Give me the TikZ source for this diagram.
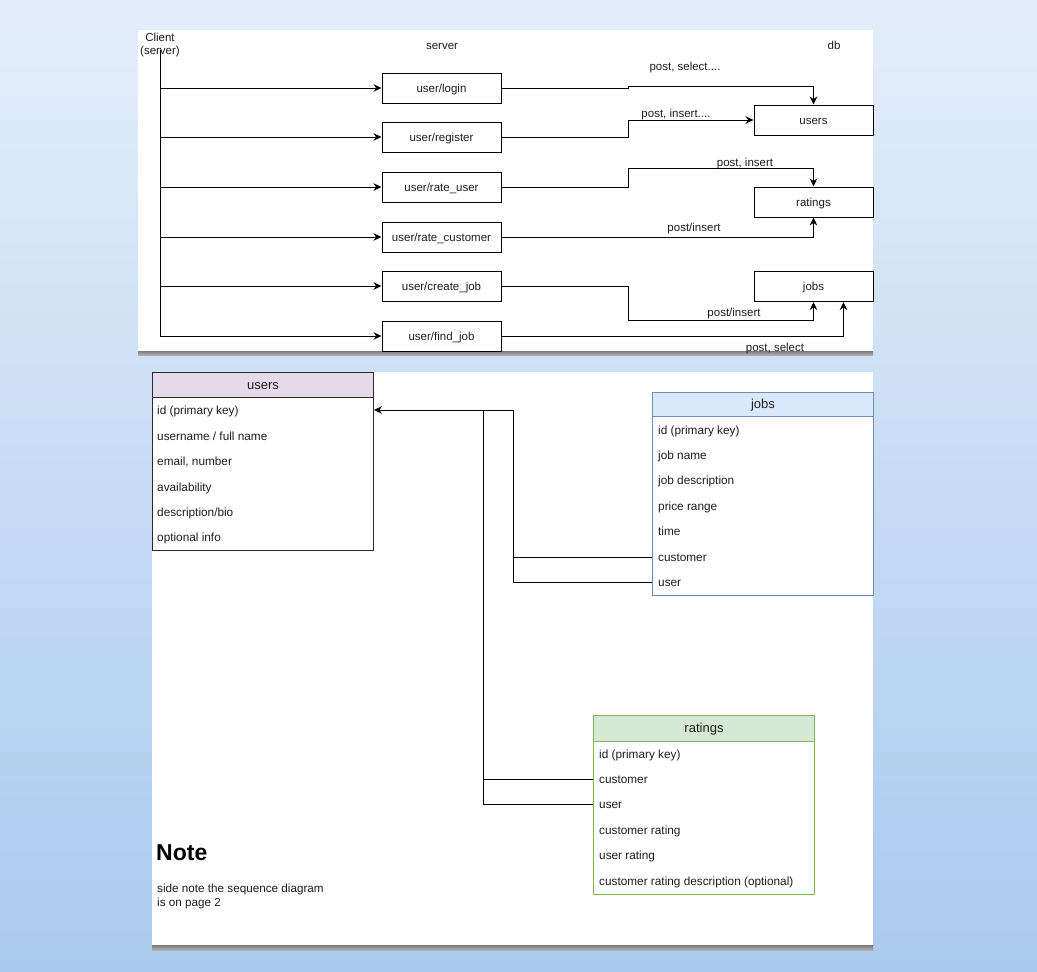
\documentclass[tikz,border=0pt]{standalone}
\usepackage{fontspec}
\setmainfont{Liberation Sans}
\usetikzlibrary{arrows.meta}
\definecolor{bgtop}{HTML}{E4EEFA}
\definecolor{bgbot}{HTML}{AACAEF}
\definecolor{shadowc}{HTML}{7A7A7A}
\definecolor{txt}{HTML}{1E1E1E}
\definecolor{upurple}{HTML}{E6D9EA}
\definecolor{ubord}{HTML}{2A2A2A}
\definecolor{jblue}{HTML}{DAE8FC}
\definecolor{jbord}{HTML}{6C8EBF}
\definecolor{rgreen}{HTML}{D5E8D4}
\definecolor{rbord}{HTML}{82B366}
\tikzset{
  fixh/.style={text height=10pt, text depth=2pt},
  lbl/.style={font=\fontsize{11.5}{13}\selectfont, text=txt, inner sep=0pt, fixh},
  srv/.style={draw=black, line width=1pt, fill=white, minimum width=119pt, minimum height=30pt, inner sep=0pt, font=\fontsize{11.5}{13}\selectfont, text=txt, fixh},
  dbbox/.style={srv},
  conn/.style={line width=1pt, draw=black},
  arr/.style={conn, -{Stealth[length=8pt,width=7.5pt]}},
  hd/.style={line width=1pt, minimum width=221pt, inner sep=0pt, anchor=north west, font=\fontsize{13}{15}\selectfont, text=txt, text height=10.5pt, text depth=2.5pt},
  tb/.style={line width=1pt, fill=white, minimum width=221pt, inner sep=0pt, anchor=north west},
  rowt/.style={anchor=west, inner sep=0pt, font=\fontsize{11.8}{13}\selectfont, text=txt, fixh},
}
\begin{document}
\begin{tikzpicture}[x=1pt,y=-1pt]
\useasboundingbox (0,0) rectangle (1037,972);
\shade[top color=bgtop, bottom color=bgbot] (0,0) rectangle (1037,972);

% panels
\fill[white] (138,30) rectangle (873,351);
\shade[top color=shadowc, bottom color=shadowc!60] (138,351) rectangle (873,355);
\fill[white] (152,372) rectangle (873,945);
\shade[top color=shadowc, bottom color=shadowc!60] (152,945) rectangle (873,950);

% ---------- top panel ----------
\node[lbl, text height=, text depth=, anchor=base] (client) at (160,41.7) {Client};
\node[lbl, text height=, text depth=, anchor=base] (clientb) at (160,54) {(server)};
\node[lbl] (server) at (442,45) {server};
\node[lbl] (db) at (834,45) {db};

\node[srv] (login) at (441.5,88) {user/login};
\node[srv] (register) at (441.5,137) {user/register};
\node[srv] (rateu) at (441.5,187) {user/rate\_user};
\node[srv] (ratec) at (441.5,237) {user/rate\_customer};
\node[srv] (createj) at (441.5,286) {user/create\_job};
\node[srv] (findj) at (441.5,336) {user/find\_job};

\node[dbbox] (dbusers) at (813.5,120) {users};
\node[dbbox] (dbratings) at (813.5,202) {ratings};
\node[dbbox] (dbjobs) at (813.5,286.5) {jobs};

\coordinate (ctop) at (160,50);
\draw[arr] (ctop) -- (ctop |- findj.west) -- (findj.west);
\foreach \b in {login,register,rateu,ratec,createj}
  \draw[arr] (ctop |- \b.west) -- (\b.west);

\coordinate (k0) at (628,86.5);
\coordinate (k1) at (628,168);
\coordinate (k2) at (628,320);
\draw[arr] (login.east) -- (login.east -| k0) -- (k0) -| (dbusers.north);
\draw[arr] (register.east) -- (register.east -| k1) |- (dbusers.west);
\draw[arr] (rateu.east) -| (k1) -| (dbratings.north);
\draw[arr] (ratec.east) -| (dbratings.south);
\draw[arr] (createj.east) -| (k2) -| (dbjobs.south);
\draw[arr] (findj.east) -| ([xshift=30pt]dbjobs.south);

\node[lbl] (l1) at (685,66) {post, select....};
\node[lbl] (l2) at (676,113) {post, insert....};
\node[lbl] (l3) at (745,162.5) {post, insert};
\node[lbl] (l4) at (694,227.5) {post/insert};
\node[lbl] (l5) at (734,312) {post/insert};
\node[lbl] (l6) at (775,347.5) {post, select};

% ---------- bottom panel ----------
% users table
\node[tb, draw=ubord, minimum height=178pt] (usersB) at (152,372) {};
\node[hd, draw=ubord, fill=upurple, minimum height=25pt] (usersH) at (152,372) {users};
\foreach \t [count=\i] in {id (primary key), username / full name, {email, number}, availability, description/bio, optional info}
  \node[rowt] (u\i) at (157,{385.4+25.4*\i}) {\t};

% jobs table
\node[tb, draw=jbord, minimum height=203pt] (jobsB) at (652,392) {};
\node[hd, draw=jbord, fill=jblue, minimum height=24pt] (jobsH) at (652,392) {jobs};
\foreach \t [count=\i] in {id (primary key), job name, job description, price range, time, customer, user}
  \node[rowt] (j\i) at (658,{404.6+25.4*\i}) {\t};

% ratings table
\node[tb, draw=rbord, minimum height=179pt] (ratB) at (593,715) {};
\node[hd, draw=rbord, fill=rgreen, minimum height=26pt] (ratH) at (593,715) {ratings};
\foreach \t [count=\i] in {id (primary key), customer, user, customer rating, user rating, customer rating description (optional)}
  \node[rowt] (r\i) at (599,{728.6+25.4*\i}) {\t};

% relations
\coordinate (jx) at (513,410);
\coordinate (rx) at (483,410);
\draw[conn] (jobsB.west |- j7) -| (jx);
\draw[arr] (jobsB.west |- j6) -| (jx) -- (usersB.east |- jx);
\draw[conn] (ratB.west |- r3) -| (rx);
\draw[conn] (ratB.west |- r2) -| (rx);

% note
\node[anchor=base west, inner sep=0pt, font=\fontsize{23}{25}\bfseries\selectfont] (note) at (156,860) {Note};
\node[anchor=base west, inner sep=0pt, font=\fontsize{11.7}{13}\selectfont, text=txt] (notetxt) at (157,892.7) {side note the sequence diagram};
\node[anchor=base west, inner sep=0pt, font=\fontsize{11.7}{13}\selectfont, text=txt] (notetxt2) at (157,906) {is on page 2};
\end{tikzpicture}
\end{document}
